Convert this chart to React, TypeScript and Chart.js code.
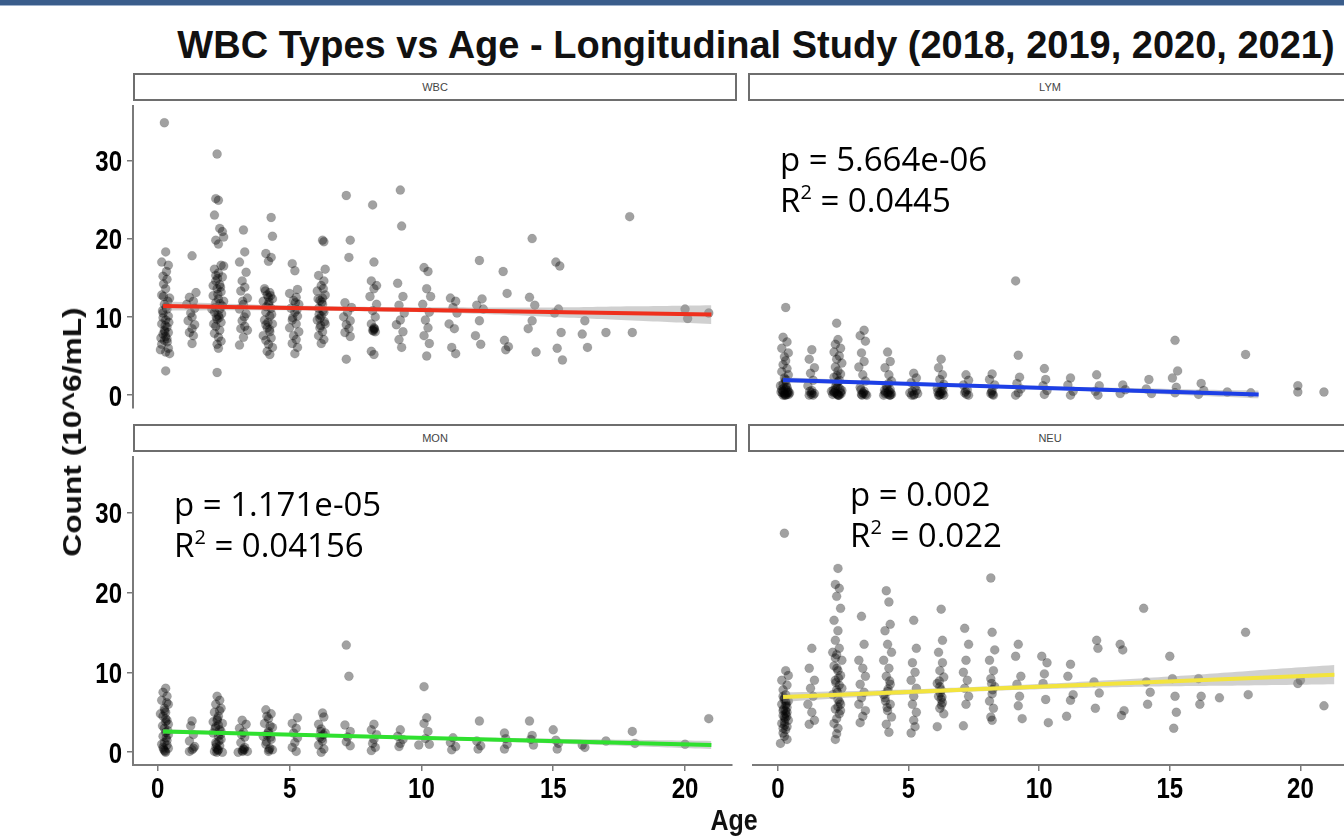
import React, { useEffect, useRef } from "react";
import { Chart, registerables } from "chart.js";

Chart.register(...registerables);

// ---------- data ----------
const xTicks = [0, 5, 10, 15, 20];
const yTicks = [0, 10, 20, 30];
const panelNames = ["WBC", "LYM", "MON", "NEU"];
const titleText = "WBC Types vs Age - Longitudinal Study (2018, 2019, 2020, 2021)";
const xAxisTitle = "Age";
const yAxisTitle = "Count (10^6/mL)";

const wbcPoints: [number, number][] = [
  [0.25,34.8],[0.3,18.3],[0.15,17.0],[0.4,16.6],[0.2,15.2],[0.35,14.8],[0.3,13.6],[0.15,12.8],[0.45,12.4],[0.25,11.6],[0.35,11.0],[0.2,10.5],[0.4,10.1],[0.3,9.6],[0.15,9.1],[0.35,8.7],[0.25,8.3],[0.4,8.0],[0.2,7.8],[0.3,7.5],[0.35,7.2],[0.25,7.0],[0.15,6.5],[0.4,6.0],[0.1,5.8],[0.3,5.5],[0.45,5.3],[0.3,3.1],[0.2,9.9],[0.38,12.0],[0.28,8.9],[0.22,14.2],
  [0.18,10.8],[0.32,11.3],[0.42,9.3],[0.27,8.1],[0.12,7.3],[0.36,6.8],[0.22,12.6],[0.33,15.8],
  [1.3,17.8],[1.45,13.1],[1.2,12.5],[1.35,12.0],[1.1,11.6],[1.4,11.1],[1.25,10.5],[1.3,10.0],[1.15,9.5],[1.4,9.0],[1.3,8.5],[1.2,8.0],[1.35,7.6],[1.3,6.6],
  [2.25,30.8],[2.2,25.1],[2.3,24.9],[2.15,23.0],[2.35,21.3],[2.45,20.9],[2.5,20.2],[2.2,19.8],[2.3,19.3],[2.4,16.6],[2.15,16.1],[2.3,15.6],[2.45,15.1],[2.2,14.6],[2.35,14.1],[2.25,13.6],[2.4,13.2],[2.1,12.7],[2.3,12.3],[2.2,11.8],[2.45,11.4],[2.35,11.0],[2.15,10.6],[2.3,10.2],[2.25,9.7],[2.4,9.3],[2.2,8.8],[2.35,8.3],[2.15,7.9],[2.3,7.4],[2.4,6.9],[2.25,6.5],[2.3,6.0],[2.25,2.9],[2.5,16.5],[2.1,14.0],[2.5,12.0],[2.05,11.0],
  [2.28,12.9],[2.18,11.2],[2.42,10.4],[2.33,9.9],[2.12,9.1],[2.38,13.8],[2.27,14.9],[2.22,10.0],[2.36,11.7],[2.2,15.3],
  [3.25,21.1],[3.3,18.3],[3.1,17.0],[3.35,15.7],[3.2,14.6],[3.3,13.8],[3.15,13.3],[3.4,12.4],[3.25,11.6],[3.1,11.0],[3.35,10.4],[3.2,9.5],[3.3,8.8],[3.15,8.5],[3.4,8.3],[3.25,7.4],[3.1,6.4],[3.22,12.0],[3.28,10.0],
  [4.3,22.7],[4.35,20.3],[4.1,18.1],[4.3,17.6],[4.2,17.1],[4.05,13.6],[4.25,13.1],[4.15,12.8],[4.35,12.3],[4.0,12.0],[4.2,11.6],[4.3,11.1],[4.1,10.6],[4.25,10.1],[4.05,9.6],[4.35,9.1],[4.15,8.6],[4.25,8.1],[4.0,7.6],[4.3,7.3],[4.1,7.0],[4.2,6.5],[4.35,6.1],[4.15,5.6],[4.25,5.2],[4.2,12.5],[4.1,9.0],
  [4.22,11.9],[4.12,11.3],[4.32,10.3],[4.18,9.3],[4.28,12.7],[4.08,13.3],[4.24,8.4],
  [5.1,16.8],[5.2,15.9],[5.3,13.5],[5.0,13.0],[5.25,12.5],[5.15,12.1],[5.35,11.6],[5.05,11.1],[5.2,10.6],[5.3,10.1],[5.1,9.6],[5.25,9.1],[5.0,8.6],[5.35,8.1],[5.15,7.6],[5.25,7.1],[5.1,6.6],[5.3,6.1],[5.2,5.3],[5.22,11.8],[5.12,9.9],[5.28,10.9],
  [6.25,19.8],[6.3,19.6],[6.35,16.1],[6.1,15.3],[6.3,14.6],[6.2,14.0],[6.05,13.3],[6.35,12.8],[6.15,12.1],[6.25,11.6],[6.1,11.1],[6.3,10.6],[6.2,10.1],[6.05,9.6],[6.35,9.1],[6.15,8.6],[6.25,8.1],[6.1,7.6],[6.3,7.1],[6.2,6.6],[6.25,12.4],[6.15,9.8],
  [6.22,11.9],[6.12,10.3],[6.32,9.4],[6.18,8.9],[6.28,13.6],[6.08,12.3],[6.26,10.8],
  [7.15,25.5],[7.3,19.8],[7.25,17.6],[7.1,11.8],[7.35,11.2],[7.2,10.6],[7.05,10.0],[7.3,9.5],[7.15,9.0],[7.25,8.5],[7.1,8.0],[7.3,7.5],[7.15,4.6],
  [8.15,24.3],[8.2,17.0],[8.1,14.6],[8.3,14.0],[8.2,13.6],[8.05,12.6],[8.3,11.6],[8.15,10.8],[8.25,10.0],[8.1,9.1],[8.2,8.6],[8.15,8.3],[8.25,8.1],[8.1,5.6],[8.2,5.2],[8.2,8.4],[8.18,8.2],[8.22,8.5],
  [9.2,26.2],[9.25,21.6],[9.1,14.3],[9.3,12.6],[9.15,11.5],[9.35,10.5],[9.2,9.6],[9.05,9.0],[9.3,8.1],[9.15,7.1],[9.25,6.1],
  [10.1,16.3],[10.25,15.8],[10.2,13.6],[10.35,12.6],[10.05,11.6],[10.3,10.6],[10.15,9.6],[10.25,8.6],[10.1,7.6],[10.3,6.6],[10.2,5.0],
  [11.1,12.4],[11.3,12.0],[11.2,11.2],[11.35,10.5],[11.05,9.1],[11.25,8.5],[11.15,6.1],[11.3,5.3],
  [12.2,17.2],[12.3,12.3],[12.1,11.5],[12.35,11.0],[12.2,9.5],[12.05,7.6],[12.25,6.5],
  [13.1,15.8],[13.25,13.0],[13.15,7.0],[13.3,6.2],[13.2,5.8],
  [14.2,20.0],[14.1,12.5],[14.3,11.5],[14.2,9.5],[14.05,8.5],[14.35,5.5],
  [15.1,17.0],[15.25,16.5],[15.2,11.0],[15.05,10.5],[15.3,8.0],[15.15,6.0],[15.35,4.5],
  [16.2,9.5],[16.1,7.8],[16.3,6.1],
  [17.0,8.0],[17.9,22.8],[18.0,8.0],[20.0,11.0],[20.1,9.8],[20.9,10.5]
];

const lymPoints: [number, number][] = [
  [0.3,11.2],[0.2,7.4],[0.35,6.8],[0.15,6.0],[0.4,5.4],[0.25,4.9],[0.3,4.4],[0.2,3.9],[0.35,3.4],[0.15,3.0],[0.4,2.6],[0.25,2.2],[0.3,1.8],[0.2,1.4],[0.35,1.0],[0.15,0.7],[0.4,0.4],[0.25,0.2],[0.3,0.0],[0.2,0.5],[0.35,0.1],[0.1,1.2],[0.45,0.3],[0.3,0.8],[0.2,0.0],
  [0.28,0.1],[0.18,0.3],[0.38,0.6],[0.22,0.9],[0.32,1.3],[0.42,0.1],[0.12,0.4],[0.3,2.0],[0.26,0.0],[0.36,0.3],
  [1.3,5.8],[1.2,4.6],[1.4,3.5],[1.25,2.8],[1.35,1.9],[1.15,1.2],[1.3,0.6],[1.4,0.2],[1.2,0.0],[1.3,0.3],[1.28,0.1],[1.22,0.5],[1.35,0.0],
  [2.25,9.2],[2.3,7.1],[2.2,6.5],[2.4,6.0],[2.15,5.5],[2.35,5.0],[2.25,4.6],[2.45,4.1],[2.2,3.6],[2.3,3.1],[2.4,2.7],[2.15,2.3],[2.35,1.9],[2.25,1.5],[2.3,1.1],[2.2,0.7],[2.4,0.4],[2.1,0.1],[2.35,0.0],[2.25,0.2],[2.45,0.6],[2.15,0.3],[2.3,0.0],[2.05,0.5],
  [2.28,0.1],[2.18,0.4],[2.38,0.8],[2.22,1.2],[2.32,0.0],[2.42,0.2],[2.12,0.6],[2.3,1.7],[2.26,2.5],
  [3.3,8.3],[3.15,7.6],[3.35,6.9],[3.2,5.4],[3.3,4.3],[3.1,3.6],[3.25,2.6],[3.35,1.8],[3.15,1.0],[3.3,0.5],[3.2,0.1],[3.4,0.0],[3.25,0.3],[3.22,0.0],[3.28,0.2],[3.18,0.7],[3.35,0.1],
  [4.2,5.5],[4.3,4.3],[4.1,3.5],[4.25,2.6],[4.35,1.8],[4.15,1.2],[4.3,0.7],[4.2,0.3],[4.05,0.0],[4.35,0.1],[4.25,0.5],[4.1,0.2],[4.3,0.0],
  [4.22,0.1],[4.12,0.4],[4.32,0.3],[4.18,0.9],[4.28,0.0],[4.08,0.6],[4.24,1.5],
  [5.2,2.8],[5.3,2.2],[5.1,1.6],[5.25,1.0],[5.15,0.5],[5.35,0.2],[5.2,0.0],[5.05,0.3],[5.22,0.1],[5.12,0.0],[5.3,0.6],
  [6.25,4.6],[6.15,3.5],[6.3,2.6],[6.2,2.0],[6.35,1.4],[6.1,0.9],[6.25,0.5],[6.3,0.2],[6.15,0.0],[6.2,0.3],[6.35,0.0],[6.22,0.1],[6.12,0.4],[6.32,0.6],[6.18,0.0],[6.28,1.1],
  [7.2,2.6],[7.3,1.9],[7.1,1.3],[7.25,0.7],[7.15,0.3],[7.3,0.0],[7.22,0.1],[7.18,0.5],
  [8.2,2.7],[8.1,2.0],[8.3,1.3],[8.2,0.6],[8.15,0.2],[8.25,0.0],[8.22,0.1],[8.18,0.4],
  [9.1,14.6],[9.2,5.1],[9.25,2.3],[9.15,1.5],[9.3,0.8],[9.2,0.3],[9.1,0.0],
  [10.2,3.4],[10.25,2.0],[10.15,1.2],[10.3,0.6],[10.2,0.1],
  [11.2,2.2],[11.1,1.3],[11.3,0.5],[11.2,0.0],
  [12.2,2.6],[12.3,1.2],[12.15,0.5],[12.25,0.0],
  [13.2,1.3],[13.3,0.7],[13.1,0.2],
  [14.2,2.0],[14.1,0.8],[14.3,0.2],
  [15.2,7.0],[15.3,3.1],[15.1,2.2],[15.25,1.0],[15.2,0.3],
  [16.2,1.5],[16.3,0.6],[16.1,0.1],
  [17.2,0.4],[17.9,5.2],[18.1,0.3],[19.9,1.2],[19.9,0.4],[20.9,0.4]
];

const monPoints: [number, number][] = [
  [0.3,8.0],[0.2,7.5],[0.35,7.0],[0.15,6.5],[0.4,6.0],[0.25,5.5],[0.3,5.0],[0.2,4.5],[0.35,4.0],[0.1,4.8],[0.4,3.5],[0.25,3.0],[0.3,2.5],[0.2,2.0],[0.35,1.5],[0.15,1.0],[0.4,0.5],[0.25,0.2],[0.3,0.0],[0.2,0.6],[0.35,0.9],[0.3,3.8],[0.25,1.2],[0.4,2.2],
  [0.28,0.1],[0.22,0.4],[0.32,1.8],[0.38,2.7],[0.18,3.3],[0.3,4.2],[0.26,5.2],[0.34,6.2],
  [1.3,3.9],[1.25,3.3],[1.35,2.2],[1.2,1.4],[1.4,0.7],[1.3,0.3],[1.2,0.1],[1.35,0.5],
  [2.25,7.0],[2.35,6.5],[2.2,6.0],[2.4,5.5],[2.15,5.0],[2.3,4.5],[2.25,4.0],[2.45,3.6],[2.2,3.2],[2.35,2.8],[2.1,2.4],[2.3,2.0],[2.4,1.6],[2.2,1.2],[2.35,0.8],[2.25,0.4],[2.15,0.1],[2.45,0.0],[2.3,0.3],[2.2,0.6],[2.4,2.6],[2.1,3.8],
  [2.28,0.2],[2.22,1.0],[2.32,1.4],[2.38,2.2],[2.18,3.0],[2.3,3.4],[2.26,4.2],[2.34,5.2],[2.24,0.0],
  [3.2,4.0],[3.35,3.5],[3.1,3.0],[3.25,2.5],[3.3,1.9],[3.15,1.2],[3.3,0.6],[3.2,0.2],[3.05,0.0],[3.4,0.1],[3.25,0.4],[3.22,0.1],[3.28,0.3],[3.18,2.2],
  [4.1,5.3],[4.3,4.8],[4.2,4.2],[4.05,3.6],[4.35,3.1],[4.2,2.6],[4.15,2.1],[4.3,1.6],[4.1,1.0],[4.25,0.5],[4.2,0.1],[4.35,0.3],[4.0,2.0],
  [4.22,0.3],[4.12,1.3],[4.28,1.9],[4.18,2.4],[4.26,3.3],[4.14,4.5],
  [5.3,4.3],[5.1,3.6],[5.25,3.0],[5.15,2.4],[5.3,1.8],[5.2,1.2],[5.1,0.6],[5.25,0.1],
  [6.25,4.9],[6.3,4.4],[6.1,3.5],[6.2,2.9],[6.35,2.4],[6.15,1.9],[6.25,1.4],[6.1,0.9],[6.3,0.4],[6.2,0.0],[6.22,1.7],[6.28,2.2],[6.18,2.6],
  [7.15,13.4],[7.25,9.5],[7.1,3.4],[7.3,2.6],[7.2,1.9],[7.15,1.3],[7.3,0.8],
  [8.2,3.5],[8.1,2.8],[8.3,2.2],[8.2,1.6],[8.15,1.1],[8.25,0.6],[8.1,0.2],
  [9.2,2.8],[9.1,2.0],[9.3,1.6],[9.2,1.1],[9.15,0.7],
  [10.1,8.2],[10.2,4.3],[10.1,3.6],[10.25,2.6],[10.15,1.7],[10.3,1.0],[9.9,0.9],
  [11.2,1.8],[11.1,1.2],[11.3,0.7],[11.15,0.3],
  [12.2,3.9],[12.1,1.4],[12.25,0.8],[12.15,0.4],
  [13.15,2.4],[13.2,1.7],[13.25,1.0],[13.15,0.4],
  [14.1,3.9],[14.2,2.1],[14.15,1.6],[14.25,0.9],
  [15.0,2.8],[15.1,1.5],[15.2,1.1],[15.15,0.4],
  [16.1,0.9],[16.2,0.6],
  [17.0,1.4],[18.0,2.6],[18.1,1.1],[20.0,1.0],[20.9,4.2]
];

const neuPoints: [number, number][] = [
  [0.25,27.4],[0.3,10.2],[0.4,9.6],[0.15,9.0],[0.35,8.4],[0.2,7.8],[0.3,7.2],[0.25,6.8],[0.4,6.4],[0.15,6.0],[0.35,5.6],[0.2,5.2],[0.3,4.8],[0.25,4.4],[0.4,4.0],[0.15,3.6],[0.35,3.2],[0.3,2.8],[0.2,2.4],[0.25,2.0],[0.1,1.1],[0.35,1.6],[0.3,5.9],[0.2,4.6],[0.25,3.8],[0.3,6.4],[0.35,5.0],[0.2,3.0],
  [0.28,4.2],[0.22,5.4],[0.32,6.1],[0.26,3.4],[0.3,5.2],[0.24,6.6],[0.34,4.5],[0.2,7.0],
  [1.3,13.0],[1.2,10.5],[1.4,9.0],[1.25,8.0],[1.35,7.0],[1.15,6.0],[1.3,5.0],[1.4,4.0],[1.2,3.5],
  [2.3,23.0],[2.2,21.0],[2.35,20.5],[2.25,19.5],[2.4,18.0],[2.15,16.5],[2.3,15.2],[2.2,14.0],[2.35,13.0],[2.25,12.2],[2.45,11.5],[2.15,10.8],[2.3,10.2],[2.4,9.6],[2.2,9.0],[2.35,8.4],[2.25,7.8],[2.1,7.2],[2.3,6.6],[2.4,6.0],[2.2,5.4],[2.35,4.8],[2.25,4.2],[2.15,3.6],[2.3,3.0],[2.25,2.3],[2.2,1.6],[2.45,8.0],[2.1,12.5],[2.4,5.2],
  [2.28,7.5],[2.22,8.7],[2.32,9.3],[2.26,10.5],[2.36,6.3],[2.2,11.8],[2.3,5.7],
  [3.2,17.0],[3.3,13.5],[3.1,11.5],[3.25,10.5],[3.35,9.5],[3.15,8.5],[3.3,7.5],[3.2,6.8],[3.1,6.0],[3.35,5.2],[3.25,4.5],[3.15,3.7],
  [4.15,20.2],[4.25,18.8],[4.3,16.0],[4.1,15.2],[4.2,13.5],[4.35,12.5],[4.05,11.5],[4.25,10.5],[4.15,9.5],[4.3,8.5],[4.2,7.6],[4.1,6.8],[4.3,6.0],[4.2,5.2],[4.35,4.4],[4.15,3.5],[4.25,2.5],[4.05,7.2],
  [4.22,7.9],[4.12,6.4],[4.28,8.9],[4.18,5.6],
  [5.2,16.5],[5.3,13.0],[5.15,11.2],[5.25,10.0],[5.1,9.0],[5.3,8.0],[5.2,7.0],[5.15,6.0],[5.3,5.0],[5.2,4.0],[5.25,3.2],[5.1,2.4],
  [6.25,17.9],[6.3,14.0],[6.15,12.5],[6.3,11.2],[6.2,10.2],[6.35,9.4],[6.1,8.6],[6.25,7.8],[6.15,7.0],[6.3,6.2],[6.2,5.5],[6.35,4.8],[6.1,3.2],[6.25,6.6],[6.2,8.2],
  [6.22,7.4],[6.28,6.9],[6.18,8.9],[6.26,5.9],
  [7.15,15.5],[7.3,13.5],[7.2,11.5],[7.1,10.0],[7.25,9.0],[7.15,8.0],[7.3,7.0],[7.2,6.0],[7.1,3.3],
  [8.15,21.8],[8.2,15.0],[8.3,12.8],[8.1,11.5],[8.25,10.2],[8.15,9.2],[8.3,8.2],[8.2,7.3],[8.1,6.4],[8.25,5.5],[8.15,4.4],[8.2,4.0],[8.22,7.8],[8.18,8.6],
  [9.2,13.5],[9.1,12.0],[9.3,9.5],[9.15,8.5],[9.25,7.0],[9.2,5.8],[9.35,4.2],
  [10.1,12.0],[10.3,11.2],[10.2,9.8],[10.15,8.6],[10.25,6.6],[10.35,3.7],
  [11.2,11.0],[11.1,9.5],[11.3,7.2],[11.2,6.5],[11.05,4.5],
  [12.2,14.0],[12.25,13.0],[12.1,8.8],[12.3,7.4],[12.15,5.5],
  [13.1,13.5],[13.2,12.8],[13.25,5.2],[13.15,4.6],
  [14.0,18.0],[14.1,8.8],[14.25,7.5],[14.15,6.0],
  [15.0,12.0],[15.1,9.2],[15.2,7.0],[15.25,5.0],[15.15,3.0],
  [16.1,9.2],[16.2,7.0],[16.15,6.0],
  [16.9,6.8],[17.9,15.0],[18.0,7.2],[19.9,8.6],[20.0,9.0],[20.9,5.8]
];

// fitted lines (endpoints)
const wbcFitX = [0.2, 21];
const wbcFitY = [11.4, 10.3];
const lymFitX = [0.2, 18.4];
const lymFitY = [1.95, 0.1];
const monFitX = [0.2, 21];
const monFitY = [2.6, 0.9];
const neuFitX = [0.2, 21.3];
const neuFitY = [6.9, 9.7];

// confidence bands
const wbcBandX = [0.2, 3, 6, 9, 12, 15, 18, 21];
const wbcBandHi = [12.0, 11.65, 11.4, 11.25, 11.2, 11.2, 11.35, 11.5];
const wbcBandLo = [10.8, 10.85, 10.8, 10.65, 10.4, 10.0, 9.55, 9.1];
const lymBandX = [0.2, 3, 6, 9, 12, 15, 18.4];
const lymBandHi = [2.3, 1.92, 1.56, 1.26, 1.0, 0.8, 0.6];
const lymBandLo = [1.6, 1.42, 1.16, 0.86, 0.5, 0.1, -0.4];
const monBandX = [0.2, 3, 6, 9, 12, 15, 18, 21];
const monBandHi = [2.9, 2.57, 2.28, 2.03, 1.84, 1.69, 1.55, 1.4];
const monBandLo = [2.3, 2.17, 1.98, 1.73, 1.44, 1.09, 0.75, 0.4];
const neuBandX = [0.2, 3, 6, 9, 12, 15, 18, 21.3];
const neuBandHi = [7.5, 7.67, 7.97, 8.37, 8.87, 9.46, 10.16, 10.9];
const neuBandLo = [6.3, 6.87, 7.37, 7.77, 8.07, 8.26, 8.36, 8.5];

const lineColors = ["#ef2f1c", "#1d3fe6", "#2fe02f", "#f3e43e"];

const pValues = ["", "5.664e-06", "1.171e-05", "0.002"];
const r2Values = ["", "0.0445", "0.04156", "0.022"];

// axis ranges
const X_MIN = -0.94;
const X_MAX = 21.77;
const Y_MIN = -1.6;
const Y_MAX = 36.9;

const AXIS_COLOR = "#7a7a7a";
const TICK_FONT = "bold 24px 'Liberation Sans', Arial, sans-serif";
const TICK_STRETCH = 1.25;

// draws tick labels (slightly tall, like the reference's stretched figure)
const tickLabelPlugin = {
  id: "stretchedTickLabels",
  afterDraw(chart: any) {
    const ctx = chart.ctx as CanvasRenderingContext2D;
    const xs = chart.scales.x;
    const ys = chart.scales.y;
    ctx.save();
    ctx.fillStyle = "#000";
    ctx.font = TICK_FONT;
    ctx.textBaseline = "alphabetic";
    if (xs && xs.options.display) {
      ctx.textAlign = "center";
      xTicks.forEach((v) => {
        const px = xs.getPixelForValue(v);
        ctx.save();
        ctx.translate(px, xs.top + 33);
        ctx.scale(1, TICK_STRETCH);
        ctx.fillText(String(v), 0, 0);
        ctx.restore();
      });
    }
    if (ys && ys.options.display) {
      ctx.textAlign = "right";
      yTicks.forEach((v) => {
        const py = ys.getPixelForValue(v);
        ctx.save();
        ctx.translate(ys.right - 11, py + 10.7);
        ctx.scale(1, TICK_STRETCH);
        ctx.fillText(String(v), 0, 0);
        ctx.restore();
      });
    }
    ctx.restore();
  },
};

type PanelProps = {
  points: [number, number][];
  fitX: number[];
  fitY: number[];
  bandX: number[];
  bandHi: number[];
  bandLo: number[];
  color: string;
  showX: boolean;
  showY: boolean;
  left: number;
  top: number;
  width: number;
  height: number;
};

function Panel(p: PanelProps) {
  const ref = useRef<HTMLCanvasElement | null>(null);
  useEffect(() => {
    if (!ref.current) return;
    const axisCommon = {
      grid: {
        display: true,
        drawOnChartArea: false,
        drawTicks: true,
        tickLength: 6,
        color: AXIS_COLOR,
        lineWidth: 1.5,
      },
      border: { display: true, color: AXIS_COLOR, width: 2 },
      ticks: { display: false, autoSkip: false },
    };
    const zeroPad = (s: any) => {
      s.paddingTop = 0;
      s.paddingBottom = 0;
      s.paddingLeft = 0;
      s.paddingRight = 0;
    };
    const chart = new Chart(ref.current, {
      type: "scatter",
      data: {
        datasets: [
          {
            type: "line",
            data: p.fitX.map((x, i) => ({ x, y: p.fitY[i] })),
            borderColor: p.color,
            borderWidth: 4,
            pointRadius: 0,
            showLine: true,
            fill: false,
          },
          {
            type: "line",
            data: p.bandX.map((x, i) => ({ x, y: p.bandHi[i] })),
            borderColor: "rgba(0,0,0,0)",
            borderWidth: 0,
            pointRadius: 0,
            showLine: true,
            fill: false,
            tension: 0.4,
          },
          {
            type: "line",
            data: p.bandX.map((x, i) => ({ x, y: p.bandLo[i] })),
            borderColor: "rgba(0,0,0,0)",
            borderWidth: 0,
            pointRadius: 0,
            showLine: true,
            fill: "-1",
            backgroundColor: "rgba(150,150,150,0.45)",
            tension: 0.4,
          },
          {
            type: "scatter",
            data: p.points.map(([x, y]) => ({ x, y })),
            pointRadius: 4.5,
            pointBackgroundColor: "rgba(0,0,0,0.37)",
            pointBorderColor: "rgba(0,0,0,0.12)",
            pointBorderWidth: 0.8,
          },
        ],
      } as any,
      options: {
        animation: false,
        responsive: false,
        maintainAspectRatio: false,
        events: [],
        layout: { padding: 0 },
        plugins: { legend: { display: false }, tooltip: { enabled: false } },
        scales: {
          x: {
            type: "linear",
            min: X_MIN,
            max: X_MAX,
            display: p.showX,
            afterBuildTicks: (s: any) => {
              s.ticks = xTicks.map((v) => ({ value: v }));
            },
            afterFit: (s: any) => {
              s.height = p.showX ? 50 : 0;
              zeroPad(s);
            },
            ...axisCommon,
          },
          y: {
            type: "linear",
            min: Y_MIN,
            max: Y_MAX,
            display: p.showY,
            afterBuildTicks: (s: any) => {
              s.ticks = yTicks.map((v) => ({ value: v }));
            },
            afterFit: (s: any) => {
              s.width = p.showY ? 55 : 0;
              zeroPad(s);
            },
            ...axisCommon,
          },
        },
      } as any,
      plugins: [tickLabelPlugin],
    });
    return () => chart.destroy();
  }, []);
  return (
    <canvas
      ref={ref}
      width={p.width}
      height={p.height}
      style={{ position: "absolute", left: p.left, top: p.top, width: p.width, height: p.height }}
    />
  );
}

function Strip({ label, left, top }: { label: string; left: number; top: number }) {
  return (
    <div
      style={{
        position: "absolute",
        left,
        top,
        width: 604,
        height: 28,
        boxSizing: "border-box",
        border: "2px solid #6e6e6e",
        background: "#fff",
        color: "#444",
        fontFamily: "'Liberation Sans', Arial, sans-serif",
        fontSize: 11,
        lineHeight: "24px",
        textAlign: "center",
      }}
    >
      {label}
    </div>
  );
}

function Annot({ left, top, p, r2 }: { left: number; top: number; p: string; r2: string }) {
  const st: React.CSSProperties = {
    position: "absolute",
    left,
    fontFamily: "'Open Sans', 'Noto Sans', sans-serif",
    fontSize: 33,
    lineHeight: "33px",
    color: "#000",
    whiteSpace: "nowrap",
  };
  return (
    <>
      <div style={{ ...st, top }}>p = {p}</div>
      <div style={{ ...st, top: top + 41 }}>
        R<span style={{ fontSize: 20, position: "relative", top: -13 }}>2</span> = {r2}
      </div>
    </>
  );
}

export default function App() {
  return (
    <div
      style={{
        position: "fixed",
        left: 0,
        top: 0,
        width: 1344,
        height: 839,
        background: "#fff",
        overflow: "hidden",
        fontFamily: "'Liberation Sans', Arial, sans-serif",
      }}
    >
      <div style={{ position: "absolute", left: 0, top: 0, width: 1344, height: 5, background: "#3a5d8b" }} />
      <div style={{ position: "absolute", left: 0, top: 5, width: 1344, height: 1, background: "#9fb2cc" }} />
      <div
        style={{
          position: "absolute",
          left: 756,
          top: 26,
          transform: "translateX(-50%)",
          fontSize: 38,
          fontWeight: "bold",
          lineHeight: "38px",
          whiteSpace: "nowrap",
          color: "#111",
        }}
      >
        {titleText}
      </div>

      <Strip label={panelNames[0]} left={133} top={73} />
      <Strip label={panelNames[1]} left={748} top={73} />
      <Strip label={panelNames[2]} left={133} top={424} />
      <Strip label={panelNames[3]} left={748} top={424} />

      <Panel points={wbcPoints} fitX={wbcFitX} fitY={wbcFitY} bandX={wbcBandX} bandHi={wbcBandHi} bandLo={wbcBandLo}
        color={lineColors[0]} showX={false} showY={true} left={78} top={101} width={659} height={312} />
      <Panel points={lymPoints} fitX={lymFitX} fitY={lymFitY} bandX={lymBandX} bandHi={lymBandHi} bandLo={lymBandLo}
        color={lineColors[1]} showX={false} showY={false} left={748} top={101} width={604} height={312} />
      <Panel points={monPoints} fitX={monFitX} fitY={monFitY} bandX={monBandX} bandHi={monBandHi} bandLo={monBandLo}
        color={lineColors[2]} showX={true} showY={true} left={78} top={452} width={659} height={363} />
      <Panel points={neuPoints} fitX={neuFitX} fitY={neuFitY} bandX={neuBandX} bandHi={neuBandHi} bandLo={neuBandLo}
        color={lineColors[3]} showX={true} showY={false} left={748} top={452} width={604} height={363} />

      <div
        style={{
          position: "absolute",
          left: 734,
          top: 801,
          transform: "translateX(-50%) scaleY(1.2)",
          transformOrigin: "50% 0",
          fontSize: 25,
          fontWeight: "bold",
          lineHeight: "30px",
          color: "#111",
        }}
      >
        {xAxisTitle}
      </div>
      <div
        style={{
          position: "absolute",
          left: 72,
          top: 432,
          transform: "translate(-50%, -50%) rotate(-90deg) scaleX(1.22)",
          fontSize: 26,
          fontWeight: "bold",
          lineHeight: "30px",
          whiteSpace: "nowrap",
          color: "#111",
        }}
      >
        {yAxisTitle}
      </div>

      <Annot left={780} top={142} p={pValues[1]} r2={r2Values[1]} />
      <Annot left={174} top={487} p={pValues[2]} r2={r2Values[2]} />
      <Annot left={850} top={477} p={pValues[3]} r2={r2Values[3]} />
    </div>
  );
}
